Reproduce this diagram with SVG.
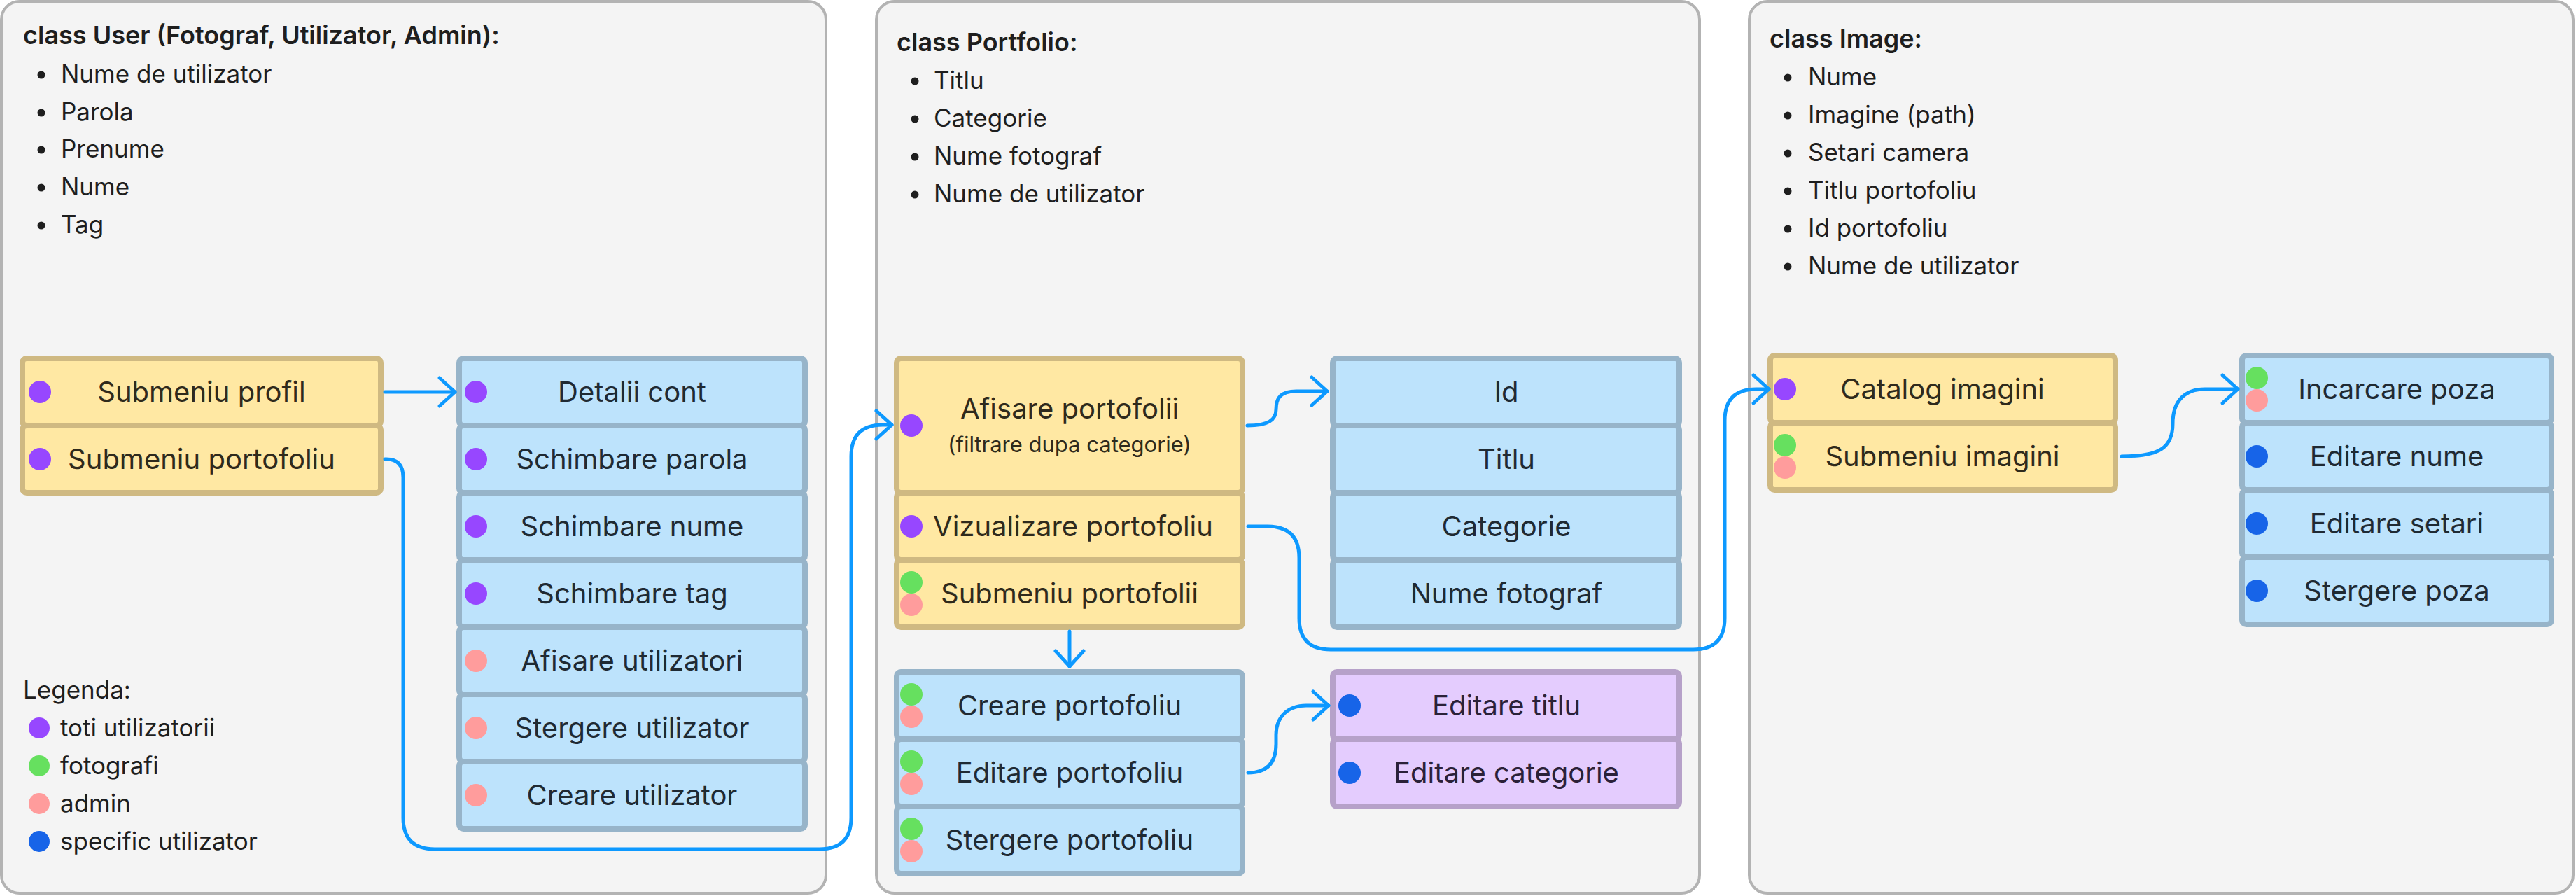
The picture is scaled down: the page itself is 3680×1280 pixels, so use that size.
<svg xmlns="http://www.w3.org/2000/svg" width="3680" height="1280" viewBox="0 0 3680 1280">
<style>
text{font-family:Inter,"Noto Sans","Liberation Sans",sans-serif;}
.cont{fill:#f4f4f4;stroke:#b3b3b3;stroke-width:4;}
.title{font-size:36px;font-weight:600;fill:#1e1e1e;}
.li{font-size:35px;fill:#1e1e1e;}
.bul{fill:#1e1e1e;}
.y{fill:#ffe8a3;stroke:#cfb982;stroke-width:8;}
.b{fill:#bde3fc;stroke:#97b4c9;stroke-width:8;}
.p{fill:#e4ccfe;stroke:#b6a1c9;stroke-width:8;}
.ty{font-size:40px;fill:#2f2a1c;text-anchor:middle;}
.tb{font-size:40px;fill:#1f2a33;text-anchor:middle;}
.tp{font-size:40px;fill:#2b2138;text-anchor:middle;}
.small{font-size:31px;}
.dv{fill:#9747ff;}
.dg{fill:#66e05f;}
.dr{fill:#ff9c9c;}
.db{fill:#1764e8;}
.conn{fill:none;stroke:#0d99ff;stroke-width:5;stroke-linecap:round;stroke-linejoin:round;}
</style>
<defs>
<marker id="arr" markerUnits="userSpaceOnUse" markerWidth="40" markerHeight="50" viewBox="-30 -25 40 50" refX="0" refY="0" orient="auto">
<path d="M-22,-20 L0,0 L-22,20" fill="none" stroke="#0d99ff" stroke-width="5" stroke-linecap="round" stroke-linejoin="round"/>
</marker>
</defs>
<rect width="3680" height="1280" fill="#ffffff"/>

<g id="container-user">
<rect class="cont" x="2" y="2" width="1178" height="1274" rx="26"/>
<text class="title" x="33" y="63">class User (Fotograf, Utilizator, Admin):</text>
<circle class="bul" cx="59" cy="107" r="5.5"/><text class="li" x="87" y="118">Nume de utilizator</text>
<circle class="bul" cx="59" cy="161" r="5.5"/><text class="li" x="87" y="172">Parola</text>
<circle class="bul" cx="59" cy="214" r="5.5"/><text class="li" x="87" y="225">Prenume</text>
<circle class="bul" cx="59" cy="268" r="5.5"/><text class="li" x="87" y="279">Nume</text>
<circle class="bul" cx="59" cy="322" r="5.5"/><text class="li" x="87" y="333">Tag</text>
</g>
<g id="container-portfolio">
<rect class="cont" x="1252" y="2" width="1176" height="1274" rx="26"/>
<text class="title" x="1281" y="73">class Portfolio:</text>
<circle class="bul" cx="1307" cy="116" r="5.5"/><text class="li" x="1334" y="127">Titlu</text>
<circle class="bul" cx="1307" cy="170" r="5.5"/><text class="li" x="1334" y="181">Categorie</text>
<circle class="bul" cx="1307" cy="224" r="5.5"/><text class="li" x="1334" y="235">Nume fotograf</text>
<circle class="bul" cx="1307" cy="278" r="5.5"/><text class="li" x="1334" y="289">Nume de utilizator</text>
</g>
<g id="container-image">
<rect class="cont" x="2499" y="2" width="1177" height="1274" rx="26"/>
<text class="title" x="2528" y="68">class Image:</text>
<circle class="bul" cx="2554" cy="111" r="5.5"/><text class="li" x="2583" y="122">Nume</text>
<circle class="bul" cx="2554" cy="165" r="5.5"/><text class="li" x="2583" y="176">Imagine (path)</text>
<circle class="bul" cx="2554" cy="219" r="5.5"/><text class="li" x="2583" y="230">Setari camera</text>
<circle class="bul" cx="2554" cy="273" r="5.5"/><text class="li" x="2583" y="284">Titlu portofoliu</text>
<circle class="bul" cx="2554" cy="327" r="5.5"/><text class="li" x="2583" y="338">Id portofoliu</text>
<circle class="bul" cx="2554" cy="381" r="5.5"/><text class="li" x="2583" y="392">Nume de utilizator</text>
</g>

<g id="legend">
<text class="li" x="33" y="998">Legenda:</text>
<circle class="dv" cx="56" cy="1040" r="15"/><text class="li" x="86" y="1052">toti utilizatorii</text>
<circle class="dg" cx="56" cy="1094" r="15"/><text class="li" x="86" y="1106">fotografi</text>
<circle class="dr" cx="56" cy="1148" r="15"/><text class="li" x="86" y="1160">admin</text>
<circle class="db" cx="56" cy="1202" r="15"/><text class="li" x="86" y="1214">specific utilizator</text>
</g>

<g id="submeniu-profil"><rect class="y" x="32" y="512" width="512" height="96" rx="6"/><circle class="dv" cx="57" cy="560" r="16"/><text class="ty" x="288" y="574">Submeniu profil</text></g>
<g id="submeniu-portofoliu"><rect class="y" x="32" y="608" width="512" height="96" rx="6"/><circle class="dv" cx="57" cy="656" r="16"/><text class="ty" x="288" y="670">Submeniu portofoliu</text></g>

<g id="detalii-cont"><rect class="b" x="656" y="512" width="494" height="96" rx="6"/><circle class="dv" cx="680" cy="560" r="16"/><text class="tb" x="903" y="574">Detalii cont</text></g>
<g id="schimbare-parola"><rect class="b" x="656" y="608" width="494" height="96" rx="6"/><circle class="dv" cx="680" cy="656" r="16"/><text class="tb" x="903" y="670">Schimbare parola</text></g>
<g id="schimbare-nume"><rect class="b" x="656" y="704" width="494" height="96" rx="6"/><circle class="dv" cx="680" cy="752" r="16"/><text class="tb" x="903" y="766">Schimbare nume</text></g>
<g id="schimbare-tag"><rect class="b" x="656" y="800" width="494" height="96" rx="6"/><circle class="dv" cx="680" cy="848" r="16"/><text class="tb" x="903" y="862">Schimbare tag</text></g>
<g id="afisare-utilizatori"><rect class="b" x="656" y="896" width="494" height="96" rx="6"/><circle class="dr" cx="680" cy="944" r="16"/><text class="tb" x="903" y="958">Afisare utilizatori</text></g>
<g id="stergere-utilizator"><rect class="b" x="656" y="992" width="494" height="96" rx="6"/><circle class="dr" cx="680" cy="1040" r="16"/><text class="tb" x="903" y="1054">Stergere utilizator</text></g>
<g id="creare-utilizator"><rect class="b" x="656" y="1088" width="494" height="96" rx="6"/><circle class="dr" cx="680" cy="1136" r="16"/><text class="tb" x="903" y="1150">Creare utilizator</text></g>

<g id="afisare-portofolii"><rect class="y" x="1281" y="512" width="494" height="192" rx="6"/><circle class="dv" cx="1302" cy="608" r="16"/><text class="ty" x="1528" y="598">Afisare portofolii</text><text class="ty small" x="1528" y="646">(filtrare dupa categorie)</text></g>
<g id="vizualizare-portofoliu"><rect class="y" x="1281" y="704" width="494" height="96" rx="6"/><circle class="dv" cx="1302" cy="752" r="16"/><text class="ty" x="1533" y="766">Vizualizare portofoliu</text></g>
<g id="submeniu-portofolii"><rect class="y" x="1281" y="800" width="494" height="96" rx="6"/><circle class="dg" cx="1302" cy="832" r="16"/><circle class="dr" cx="1302" cy="864" r="16"/><text class="ty" x="1528" y="862">Submeniu portofolii</text></g>

<g id="id"><rect class="b" x="1904" y="512" width="495" height="96" rx="6"/><text class="tb" x="2152" y="574">Id</text></g>
<g id="titlu"><rect class="b" x="1904" y="608" width="495" height="96" rx="6"/><text class="tb" x="2152" y="670">Titlu</text></g>
<g id="categorie"><rect class="b" x="1904" y="704" width="495" height="96" rx="6"/><text class="tb" x="2152" y="766">Categorie</text></g>
<g id="nume-fotograf"><rect class="b" x="1904" y="800" width="495" height="96" rx="6"/><text class="tb" x="2152" y="862">Nume fotograf</text></g>

<g id="creare-portofoliu"><rect class="b" x="1281" y="960" width="494" height="96" rx="6"/><circle class="dg" cx="1302" cy="992" r="16"/><circle class="dr" cx="1302" cy="1024" r="16"/><text class="tb" x="1528" y="1022">Creare portofoliu</text></g>
<g id="editare-portofoliu"><rect class="b" x="1281" y="1056" width="494" height="96" rx="6"/><circle class="dg" cx="1302" cy="1088" r="16"/><circle class="dr" cx="1302" cy="1120" r="16"/><text class="tb" x="1528" y="1118">Editare portofoliu</text></g>
<g id="stergere-portofoliu"><rect class="b" x="1281" y="1152" width="494" height="96" rx="6"/><circle class="dg" cx="1302" cy="1184" r="16"/><circle class="dr" cx="1302" cy="1216" r="16"/><text class="tb" x="1528" y="1214">Stergere portofoliu</text></g>

<g id="editare-titlu"><rect class="p" x="1904" y="960" width="495" height="96" rx="6"/><circle class="db" cx="1928" cy="1008" r="16"/><text class="tp" x="2152" y="1022">Editare titlu</text></g>
<g id="editare-categorie"><rect class="p" x="1904" y="1056" width="495" height="96" rx="6"/><circle class="db" cx="1928" cy="1104" r="16"/><text class="tp" x="2152" y="1118">Editare categorie</text></g>

<g id="catalog-imagini"><rect class="y" x="2529" y="508" width="493" height="96" rx="6"/><circle class="dv" cx="2550" cy="556" r="16"/><text class="ty" x="2775" y="570">Catalog imagini</text></g>
<g id="submeniu-imagini"><rect class="y" x="2529" y="604" width="493" height="96" rx="6"/><circle class="dg" cx="2550" cy="636" r="16"/><circle class="dr" cx="2550" cy="668" r="16"/><text class="ty" x="2775" y="666">Submeniu imagini</text></g>

<g id="incarcare-poza"><rect class="b" x="3203" y="508" width="442" height="96" rx="6"/><circle class="dg" cx="3224" cy="540" r="16"/><circle class="dr" cx="3224" cy="572" r="16"/><text class="tb" x="3424" y="570">Incarcare poza</text></g>
<g id="editare-nume"><rect class="b" x="3203" y="604" width="442" height="96" rx="6"/><circle class="db" cx="3224" cy="652" r="16"/><text class="tb" x="3424" y="666">Editare nume</text></g>
<g id="editare-setari"><rect class="b" x="3203" y="700" width="442" height="96" rx="6"/><circle class="db" cx="3224" cy="748" r="16"/><text class="tb" x="3424" y="762">Editare setari</text></g>
<g id="stergere-poza"><rect class="b" x="3203" y="796" width="442" height="96" rx="6"/><circle class="db" cx="3224" cy="844" r="16"/><text class="tb" x="3424" y="858">Stergere poza</text></g>

<g id="connectors">
<path class="conn" marker-end="url(#arr)" d="M550,560 H650"/>
<path class="conn" marker-end="url(#arr)" d="M550,656 H552 Q576,656 576,682 V1168 Q576,1213 621,1213 H1171 Q1216,1213 1216,1168 V652 Q1216,607 1261,607 H1274"/>
<path class="conn" marker-end="url(#arr)" d="M1782,608 C1812,608 1823,600 1823,585 C1823,568 1830,559 1852,559 H1896"/>
<path class="conn" marker-end="url(#arr)" d="M1783,752 H1811 Q1856,752 1856,797 V883 Q1856,928 1901,928 H2419 Q2464,928 2464,883 V601 Q2464,556 2509,556 H2527"/>
<path class="conn" marker-end="url(#arr)" d="M1528,902 V952"/>
<path class="conn" marker-end="url(#arr)" d="M1783,1104 C1812,1104 1823,1088 1823,1063 V1050 C1823,1024 1840,1008 1866,1008 H1898"/>
<path class="conn" marker-end="url(#arr)" d="M3031,652 C3085,652 3104,640 3104,605 C3104,572 3122,556 3150,556 H3197"/>
</g>
</svg>
